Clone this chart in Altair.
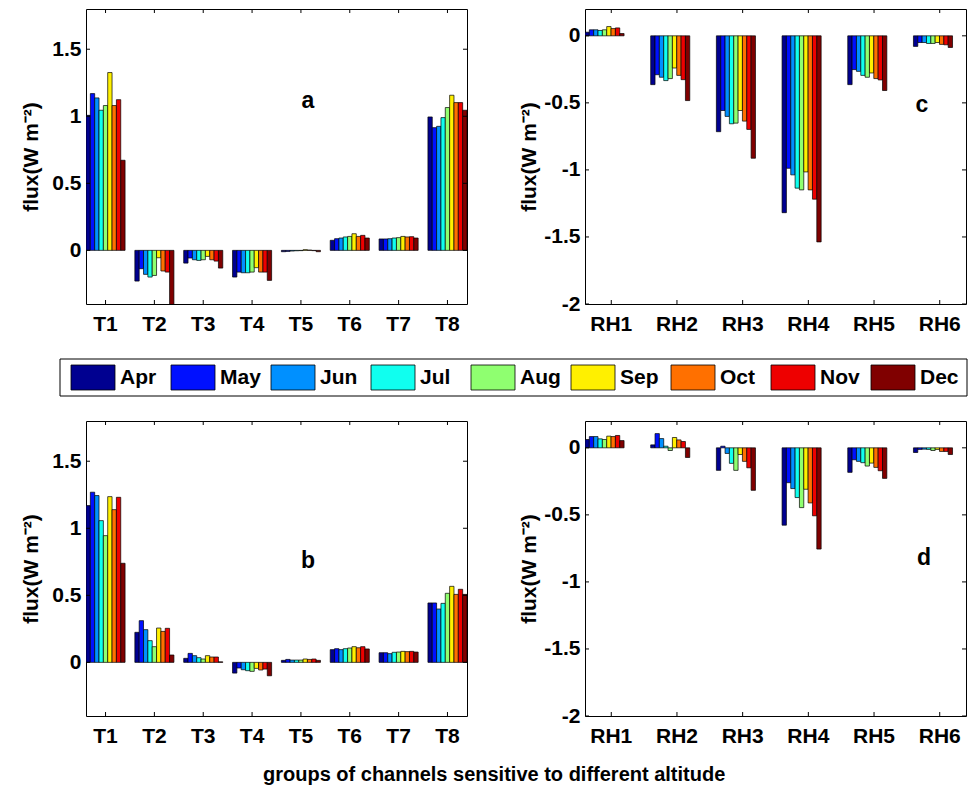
import altair as alt
import pandas as pd

months = ["Apr", "May", "Jun", "Jul", "Aug", "Sep", "Oct", "Nov", "Dec"]
month_colors = ["#000090", "#0010FF", "#0090FF", "#10FFEF", "#8FFF70",
                "#FFF000", "#FF7000", "#EE0000", "#800000"]

t_groups = ["T1", "T2", "T3", "T4", "T5", "T6", "T7", "T8"]
rh_groups = ["RH1", "RH2", "RH3", "RH4", "RH5", "RH6"]

# panel a (rows = groups, columns = months Apr..Dec)
panel_a = [
    [1.007, 1.169, 1.137, 1.045, 1.080, 1.326, 1.080, 1.124, 0.672],
    [-0.229, -0.137, -0.179, -0.199, -0.187, -0.055, -0.154, -0.162, -0.45],
    [-0.095, -0.057, -0.070, -0.075, -0.070, -0.045, -0.070, -0.080, -0.132],
    [-0.199, -0.162, -0.167, -0.167, -0.162, -0.129, -0.162, -0.162, -0.224],
    [-0.010, -0.008, -0.005, -0.003, -0.002, 0.005, 0.002, -0.002, -0.010],
    [0.075, 0.087, 0.092, 0.100, 0.104, 0.124, 0.104, 0.112, 0.092],
    [0.085, 0.085, 0.087, 0.092, 0.095, 0.104, 0.100, 0.102, 0.092],
    [0.995, 0.915, 0.925, 0.990, 1.065, 1.157, 1.102, 1.102, 1.045],
]
# panel b
panel_b = [
    [1.169, 1.269, 1.244, 1.057, 0.945, 1.236, 1.139, 1.231, 0.739],
    [0.224, 0.311, 0.244, 0.162, 0.117, 0.256, 0.231, 0.254, 0.055],
    [0.030, 0.067, 0.050, 0.035, 0.025, 0.050, 0.040, 0.040, 0.004],
    [-0.080, -0.042, -0.055, -0.062, -0.067, -0.045, -0.057, -0.050, -0.100],
    [0.015, 0.022, 0.017, 0.017, 0.017, 0.025, 0.022, 0.025, 0.015],
    [0.095, 0.102, 0.095, 0.102, 0.107, 0.117, 0.109, 0.117, 0.100],
    [0.072, 0.072, 0.065, 0.075, 0.077, 0.082, 0.080, 0.082, 0.077],
    [0.443, 0.443, 0.398, 0.440, 0.515, 0.567, 0.507, 0.545, 0.507],
]
# panel c
panel_c = [
    [0.027, 0.045, 0.045, 0.040, 0.045, 0.069, 0.054, 0.059, 0.017],
    [-0.364, -0.290, -0.309, -0.334, -0.319, -0.240, -0.295, -0.327, -0.483],
    [-0.715, -0.557, -0.601, -0.656, -0.651, -0.557, -0.636, -0.698, -0.913],
    [-1.319, -0.988, -1.037, -1.136, -1.149, -1.015, -1.149, -1.218, -1.537],
    [-0.364, -0.252, -0.265, -0.295, -0.309, -0.277, -0.319, -0.329, -0.408],
    [-0.079, -0.050, -0.050, -0.057, -0.057, -0.050, -0.064, -0.067, -0.087],
]
# panel d
panel_d = [
    [0.062, 0.084, 0.084, 0.067, 0.062, 0.087, 0.084, 0.092, 0.054],
    [0.022, 0.106, 0.069, 0.012, -0.020, 0.077, 0.059, 0.047, -0.072],
    [-0.168, 0.012, -0.042, -0.116, -0.168, -0.050, -0.101, -0.149, -0.317],
    [-0.577, -0.260, -0.304, -0.371, -0.446, -0.309, -0.411, -0.507, -0.755],
    [-0.183, -0.089, -0.101, -0.111, -0.136, -0.114, -0.146, -0.171, -0.228],
    [-0.035, -0.012, -0.010, -0.012, -0.020, -0.012, -0.027, -0.027, -0.050],
]

t_domain = [-0.4, 1.8]
t_ticks = [0, 0.5, 1, 1.5]
rh_domain = [-2, 0.2]
rh_ticks = [0, -0.5, -1, -1.5, -2]

FONT = "Liberation Sans"
W, H = 381, 295
TICK = 4

color = alt.Color("month:N", scale=alt.Scale(domain=months, range=month_colors), legend=None)


def long_table(groups, rows):
    recs = []
    for g, row in zip(groups, rows):
        for m, v in zip(months, row):
            recs.append({"group": g, "month": m, "value": v})
    return pd.DataFrame(recs)


def panel(groups, rows, domain, ticks, letter, lx, ly, title_pad):
    df = long_table(groups, rows)
    x_enc = alt.X("group:N", sort=groups,
                  scale=alt.Scale(paddingInner=0.2, paddingOuter=0),
                  axis=alt.Axis(title=None, labelAngle=0, labelPadding=9))
    y_enc = alt.Y("value:Q", stack=None,
                  scale=alt.Scale(domain=domain, nice=False, zero=False),
                  axis=alt.Axis(values=ticks, title="flux(W m⁻²)",
                                labelExpr="toString(datum.value)",
                                labelPadding=5, titlePadding=title_pad))
    bars = alt.Chart(df).mark_bar(stroke="black", strokeWidth=0.7, clip=True).encode(
        x=x_enc,
        xOffset=alt.XOffset("month:N", sort=months,
                            scale=alt.Scale(paddingInner=0, paddingOuter=0)),
        y=y_enc,
        y2=alt.datum(0),
        color=color,
    )
    gdf = pd.DataFrame({"group": groups})
    tdf = pd.DataFrame({"value": ticks})
    xt_bot = alt.Chart(gdf).mark_rule(color="black", strokeWidth=1).encode(
        x=x_enc, y=alt.value(H), y2=alt.value(H - TICK))
    xt_top = alt.Chart(gdf).mark_rule(color="black", strokeWidth=1).encode(
        x=x_enc, y=alt.value(0), y2=alt.value(TICK))
    yt_left = alt.Chart(tdf).mark_rule(color="black", strokeWidth=1).encode(
        y=y_enc, x=alt.value(0), x2=alt.value(TICK))
    yt_right = alt.Chart(tdf).mark_rule(color="black", strokeWidth=1).encode(
        y=y_enc, x=alt.value(W - TICK), x2=alt.value(W))
    txt = alt.Chart(pd.DataFrame({"t": [letter]})).mark_text(
        font=FONT, fontSize=23, fontWeight="bold", color="black",
        align="center", baseline="middle").encode(
        text="t:N", x=alt.value(lx), y=alt.value(ly))
    return alt.layer(bars, xt_bot, xt_top, yt_left, yt_right, txt).properties(
        width=W, height=H)


pa = panel(t_groups, panel_a, t_domain, t_ticks, "a", 222, 92, 10)
pb = panel(t_groups, panel_b, t_domain, t_ticks, "b", 222, 140, 10)
pc = panel(rh_groups, panel_c, rh_domain, rh_ticks, "c", 337, 96, 4)
pd_ = panel(rh_groups, panel_d, rh_domain, rh_ticks, "d", 339, 137, 4)

# legend strip (origin aligned with the left edge of panel a)
LW, LH = 881, 37
leg_df = pd.DataFrame({"month": months})
leg_x = alt.X("month:N", sort=months,
              scale=alt.Scale(range=[-15, 829], paddingInner=0.56, paddingOuter=0),
              axis=None)
swatch = alt.Chart(leg_df).mark_rect(stroke="black", strokeWidth=0.8).encode(
    x=leg_x, y=alt.value(6), y2=alt.value(31), color=color)
leg_text = alt.Chart(leg_df).mark_text(
    font=FONT, fontSize=21, fontWeight="bold", color="black",
    align="left", baseline="middle", dx=27).encode(
    x=leg_x, y=alt.value(19), text="month:N")
box = alt.Chart(pd.DataFrame({"k": [0]})).mark_rect(
    fill="transparent", stroke="black", strokeWidth=1).encode(
    x=alt.value(-26), x2=alt.value(LW), y=alt.value(0), y2=alt.value(LH))
legend = alt.layer(box, swatch, leg_text).properties(
    width=LW, height=LH, view=alt.ViewBackground(stroke="transparent"))

top = alt.hconcat(pa, pc, spacing=50)
bottom = alt.hconcat(pb, pd_, spacing=50)

chart = alt.vconcat(top, legend, bottom, spacing=23).properties(
    title=alt.TitleParams("groups of channels sensitive to different altitude",
                          orient="bottom", anchor="middle", font=FONT,
                          fontSize=20, fontWeight="bold", color="black", offset=18),
    padding={"left": 20, "top": 8, "right": 0, "bottom": 5},
    background="white",
).configure_view(stroke="black", strokeWidth=1).configure_axis(
    labelFont=FONT, labelFontSize=21, labelFontWeight="bold", labelColor="black",
    titleFont=FONT, titleFontSize=21, titleFontWeight="bold", titleColor="black",
    grid=False, ticks=False, domain=False,
)

chart.save("out.html", embed_options={"renderer": "svg", "actions": False})
